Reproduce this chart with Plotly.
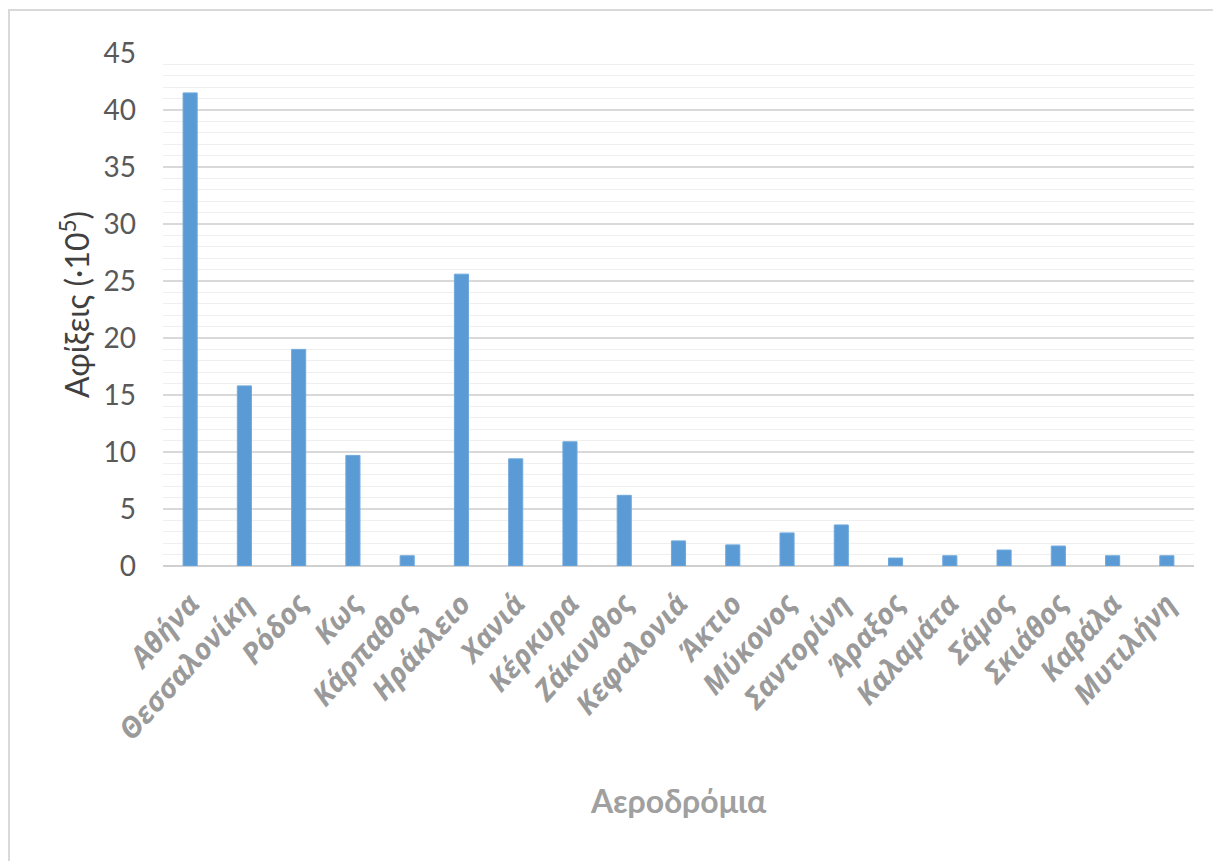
import plotly.graph_objects as go

airports = ["Αθήνα", "Θεσσαλονίκη", "Ρόδος", "Κως", "Κάρπαθος", "Ηράκλειο", "Χανιά",
            "Κέρκυρα", "Ζάκυνθος", "Κεφαλονιά", "Άκτιο", "Μύκονος", "Σαντορίνη",
            "Άραξος", "Καλαμάτα", "Σάμος", "Σκιάθος", "Καβάλα", "Μυτιλήνη"]
arrivals = [41.5, 15.8, 19.0, 9.7, 0.9, 25.6, 9.4, 10.9, 6.2, 2.2, 1.85, 2.9, 3.6,
            0.7, 0.9, 1.4, 1.75, 0.9, 0.9]
y_ticks = [0, 5, 10, 15, 20, 25, 30, 35, 40, 45]

OFF = 8  # page body margin
W, H = 1221, 861
L, T = 163 - OFF, 53 - OFF
PR, PB = 1194 - OFF, 566 - OFF
R, B = W - PR, H - PB
pw, ph = PR - L, PB - T

def px(x):
    return (x - OFF - L) / pw

def py(y):
    return (PB - (y - OFF)) / ph

fig = go.Figure(go.Bar(
    x=airports, y=arrivals, width=0.26,
    marker=dict(color="#5B9BD5", line=dict(color="#6FA8DC", width=1)),
))

fig.update_layout(
    width=W, height=H,
    margin=dict(l=L, r=R, t=T, b=B),
    paper_bgcolor="white", plot_bgcolor="white",
    showlegend=False,
    font=dict(family="Lato, Open Sans, sans-serif"),
    xaxis=dict(
        tickangle=-48, automargin=False,
        tickfont=dict(size=29, color="#9a9a9a", family="Open Sans, sans-serif",
                      style="italic", weight="bold"),
        showgrid=False, showline=False, ticks="",
        range=[-0.5, len(airports) - 0.5],
        ticklabelstandoff=14,
    ),
    yaxis=dict(
        range=[0, 45], tickvals=y_ticks, automargin=False,
        tickfont=dict(size=28, color="#595959"),
        showgrid=True, gridcolor="#d9d9d9", gridwidth=1.5,
        minor=dict(dtick=1, showgrid=True, gridcolor="#efefef", gridwidth=1),
        zeroline=True, zerolinecolor="#d0d0d0", zerolinewidth=2,
        showline=False, ticks="", ticklabelstandoff=26,
    ),
    annotations=[
        dict(text="Αφίξεις (·10<sup>5</sup>)", xref="paper", yref="paper",
             x=px(75), y=py(305), xanchor="center", yanchor="middle",
             textangle=-90, showarrow=False,
             font=dict(size=32, color="#404040")),
        dict(text="Αεροδρόμια", xref="paper", yref="paper",
             x=px(678), y=py(800), xanchor="center", yanchor="middle",
             showarrow=False,
             font=dict(size=32, color="#a0a0a0", weight="bold")),
    ],
    shapes=[
        dict(type="rect", xref="paper", yref="paper",
             x0=px(9), x1=px(1250), y0=py(900), y1=py(10),
             line=dict(color="#d9d9d9", width=2), fillcolor="rgba(0,0,0,0)", layer="below"),
    ],
)

fig.write_html("out.html")
